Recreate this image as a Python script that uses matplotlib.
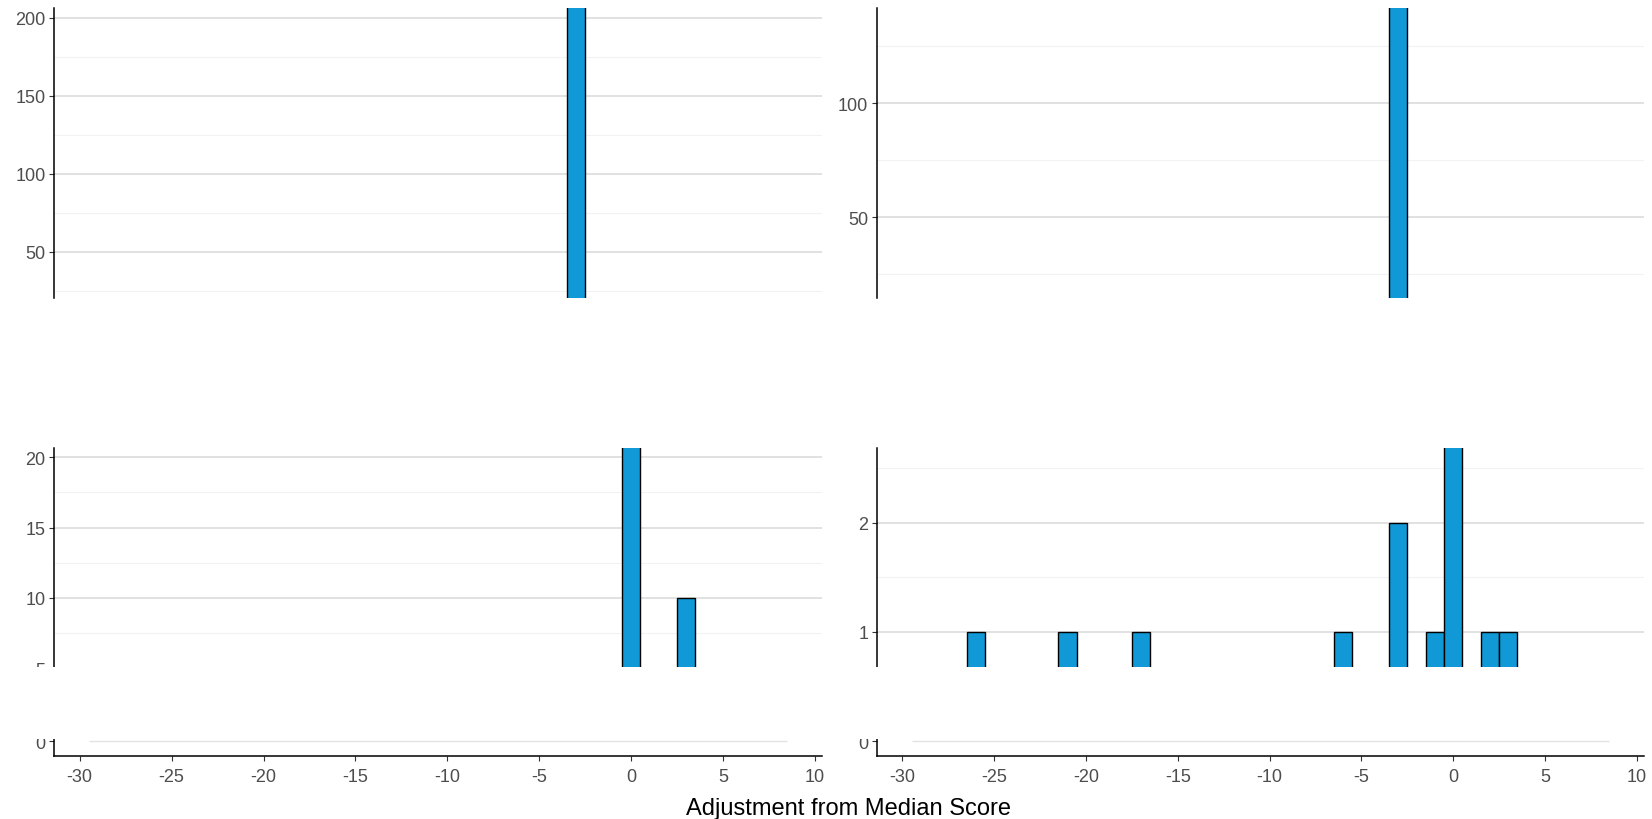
import numpy as np
import matplotlib.pyplot as plt
from matplotlib.patches import Rectangle

plt.rcParams['font.family'] = ['Liberation Sans', 'DejaVu Sans']
plt.rcParams['axes.unicode_minus'] = False

# histogram bins run from -29.5 to 8.5, width 1
bin_lo, bin_hi = -29.5, 8.5

# bin centre / count for each panel
tl_x = [-3]
tl_n = [215]
tr_x = [-3]
tr_n = [150]
bl_x = [0, 3]
bl_n = [22, 10]
br_x = [-26, -21, -17, -6, -3, -1, 0, 2, 3]
br_n = [1, 1, 1, 1, 2, 1, 3, 1, 1]

xticks = [-30, -25, -20, -15, -10, -5, 0, 5, 10]
xlabel = "Adjustment from Median Score"

bar_col = "#1198d6"
W, H = 1652, 820

fig = plt.figure(figsize=(W / 100, H / 100), dpi=100)


def rect(l, t, r, b):
    return [l / W, 1 - b / H, (r - l) / W, (b - t) / H]


def style(ax, ylim, major, minor, bottom=False):
    ax.set_xlim(-31.4, 10.4)
    ax.set_ylim(*ylim)
    ax.set_yticks(major)
    ax.set_yticks(minor, minor=True)
    ax.grid(axis="y", which="major", color="#d9d9d9", lw=1.1)
    ax.grid(axis="y", which="minor", color="#f2f2f2", lw=0.8)
    ax.set_axisbelow(True)
    for s in ["top", "right"]:
        ax.spines[s].set_visible(False)
    ax.spines["left"].set_linewidth(1.1)
    ax.tick_params(axis="y", which="major", length=3.6, width=0.8, color="#333333",
                   labelsize=13, labelcolor="#4d4d4d", pad=2.5)
    ax.tick_params(axis="y", which="minor", length=0)
    if bottom:
        ax.set_xticks(xticks)
        ax.spines["bottom"].set_linewidth(1.1)
        ax.tick_params(axis="x", length=3.6, width=0.8, color="#333333",
                       labelsize=13, labelcolor="#4d4d4d", pad=5)
    else:
        ax.spines["bottom"].set_visible(False)
        ax.set_xticks([])


def bars(ax, x, n):
    ax.bar(x, n, width=1, color=bar_col, edgecolor="black", linewidth=1.0)


cols = [(54, 822.3), (876.7, 1644)]

# top row
ax = fig.add_axes(rect(cols[0][0], 9, cols[0][1], 299))
style(ax, (20.5, 206.4), [50, 100, 150, 200], [25, 75, 125, 175])
bars(ax, tl_x, tl_n)

ax = fig.add_axes(rect(cols[1][0], 9, cols[1][1], 299))
style(ax, (14.6, 141.7), [50, 100], [25, 75, 125])
bars(ax, tr_x, tr_n)

# bottom row, upper part
ax = fig.add_axes(rect(cols[0][0], 449.3, cols[0][1], 669.3))
style(ax, (5.0, 20.64), [5, 10, 15, 20], [7.5, 12.5, 17.5])
bars(ax, bl_x, bl_n)

ax = fig.add_axes(rect(cols[1][0], 449.3, cols[1][1], 669.3))
style(ax, (0.664, 2.68), [1, 2], [1.5, 2.5])
bars(ax, br_x, br_n)

# bottom row, lower part with the x axis
for l, r in cols:
    ax = fig.add_axes(rect(l, 669.3, r, 757))
    style(ax, (-1, 5), [0], [], bottom=True)
    ax.grid(False)
    ax.hlines(0, bin_lo, bin_hi, color="#e3e3e3", lw=1.0)

# blank band over the break
fig.add_artist(Rectangle((0, 1 - 740 / H), 1, (740 - 668.4) / H,
                         transform=fig.transFigure, facecolor="white",
                         edgecolor="none", zorder=10))

fig.text(849 / W, 1 - 809 / H, xlabel, ha="center", va="center", fontsize=17, color="black")

fig.savefig("out.png", dpi=100, facecolor="white")
